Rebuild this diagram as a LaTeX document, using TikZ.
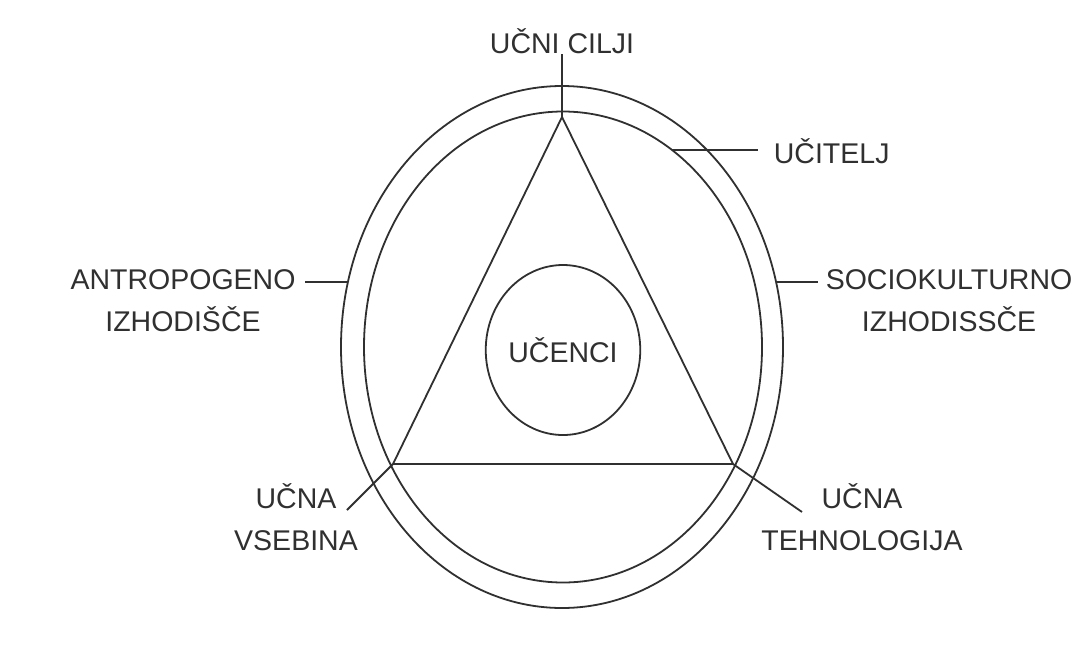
\documentclass[tikz,border=0pt]{standalone}
\usepackage{fontspec}
\setmainfont{Liberation Sans}
\usepackage{xcolor}
\usepackage{tikz}
\usetikzlibrary{shapes.geometric}
\definecolor{ink}{HTML}{303030}

\begin{document}
\begin{tikzpicture}[x=1pt, y=-1pt, color=ink, line width=1.8pt,
  ring/.style={ellipse,draw,inner sep=0pt,outer sep=0pt},
  lbl/.style={text=ink,inner sep=0pt,align=center,font=\fontsize{28.5}{42}\selectfont}]
  \fill[white] (0,0) rectangle (1078,646);
  \useasboundingbox (0,0) rectangle (1078,646);
  %--- rings ---
  \node[ring, minimum width=442, minimum height=522] (outer) at (562,347) {};
  \node[ring, minimum width=398, minimum height=471] (inner) at (563,347) {};
  \node[ring, lbl, minimum width=141, minimum height=170] (pupils) at (563,350) {UČENCI};
  %--- triangle ---
  \coordinate (goals) at (562,117);
  \coordinate (content) at (393,464);
  \coordinate (tech) at (733,464);
  \draw (goals) -- (content) -- (tech) -- cycle;
  %--- labels ---
  \node[lbl, anchor=base] (l-goals) at (562,53) {UČNI CILJI};
  \draw (l-goals.south) -- (goals);
  \node[lbl, anchor=base west] (l-teacher) at (773,163) {UČITELJ};
  \coordinate (e-teacher) at (758,150);
  \draw (inner.61) -- (inner.61 -| e-teacher);
  \node[lbl] (l-anthro) at (183,301) {ANTROPOGENO\\IZHODIŠČE};
  \coordinate (e-anthro) at (305,282);
  \draw (outer.163 -| e-anthro) -- (outer.163);
  \node[lbl] (l-socio) at (949,301) {SOCIOKULTURNO\\IZHODISSČE};
  \coordinate (e-socio) at (818,282);
  \draw (outer.17) -- (outer.17 -| e-socio);
  \node[lbl] (l-content) at (296,517) {UČNA\\VSEBINA};
  \coordinate (e-content) at (347,510);
  \draw (content) -- (e-content);
  \node[lbl] (l-tech) at (862,517) {UČNA\\TEHNOLOGIJA};
  \coordinate (e-tech) at (802,512);
  \draw (tech) -- (e-tech);
\end{tikzpicture}
\end{document}
